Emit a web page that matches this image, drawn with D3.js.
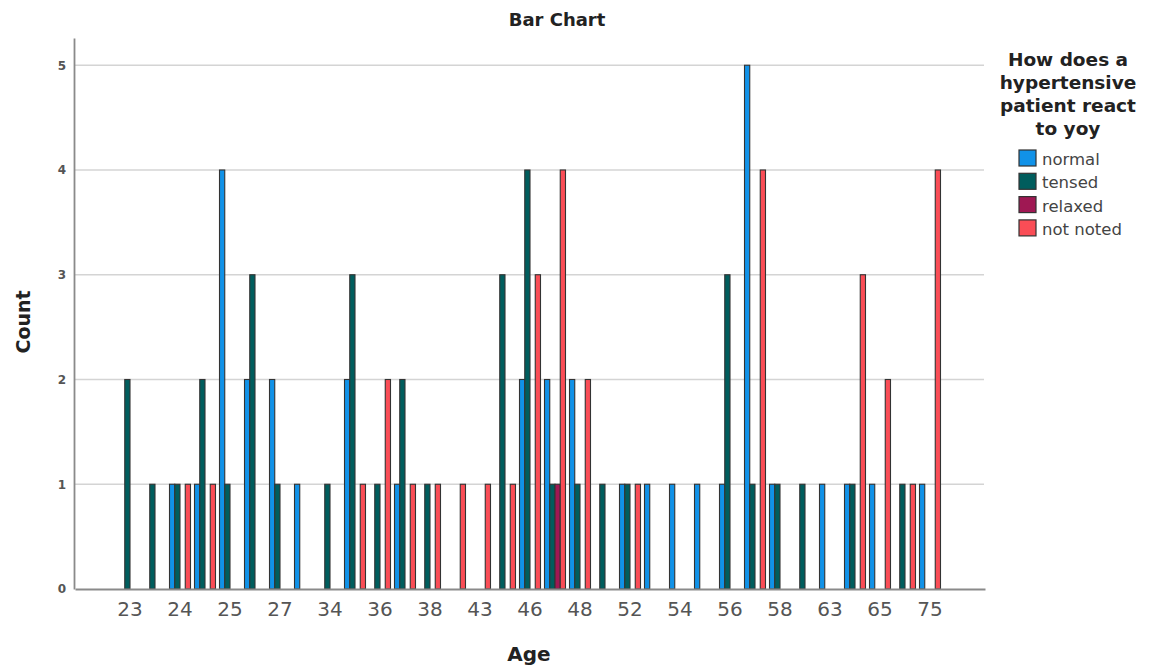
<!DOCTYPE html>
<html>
<head>
<meta charset="utf-8">
<script src="https://cdn.jsdelivr.net/npm/d3@7"></script>
<style>
  html, body { margin: 0; padding: 0; background: #fff; }
  svg { display: block; font-family: "DejaVu Sans", Verdana, sans-serif; }
</style>
</head>
<body>
<svg id="chart" width="1155" height="671"></svg>
<script>
// Age categories (every second label is hidden on the axis, as in the source)
const ageLabels = ["23","","24","","25","","27","","34","","36","","38","","43","","46","","48","","52","","54","","56","","58","","63","","65","","75"];
const seriesNames = ["normal", "tensed", "relaxed", "not noted"];
const seriesColors = ["#1192e8", "#005d5d", "#9f1853", "#fa4d56"];

const normal   = [0,0,1,1,4,2,2,1,0,2,0,1,0,0,0,0,2,2,2,0,1,1,1,1,1,5,1,0,1,1,1,0,1];
const tensed   = [2,1,1,2,1,3,1,0,1,3,1,2,1,0,0,3,4,1,1,1,1,0,0,0,3,1,1,1,0,1,0,1,0];
const relaxed  = [0,0,0,0,0,0,0,0,0,0,0,0,0,0,0,0,0,1,0,0,0,0,0,0,0,0,0,0,0,0,0,0,0];
const notNoted = [0,0,1,1,0,0,0,0,0,1,2,1,1,1,1,1,3,4,2,0,1,0,0,0,0,4,0,0,0,3,2,1,4];

const yTicks = [0,1,2,3,4,5];
const seriesValues = [normal, tensed, relaxed, notNoted];

const svg = d3.select("#chart");
const plot = { left: 75, right: 985, top: 38, bottom: 589 };

const idx = ageLabels.map((_, i) => i);
const x = d3.scaleBand().domain(idx).range([plot.left, plot.right]).paddingInner(0).paddingOuter(1.7);
const xs = d3.scaleBand().domain(d3.range(seriesNames.length)).range([-10.5, 10.5]);
const y = d3.scaleLinear().domain([0, 5.26]).range([plot.bottom, plot.top]);

// gridlines
svg.append("g").selectAll("line").data(yTicks.filter(t => t > 0)).join("line")
  .attr("x1", plot.left).attr("x2", plot.right - 1)
  .attr("y1", d => y(d)).attr("y2", d => y(d))
  .attr("stroke", "#d4d4d4").attr("stroke-width", 1.6);

// bars
const barData = [];
seriesValues.forEach((vals, s) => vals.forEach((v, i) => { if (v > 0) barData.push({ i, s, v }); }));
svg.append("g").selectAll("rect").data(barData).join("rect")
  .attr("x", d => x(d.i) + x.bandwidth() / 2 + xs(d.s))
  .attr("width", xs.bandwidth())
  .attr("y", d => y(d.v))
  .attr("height", d => y(0) - y(d.v))
  .attr("fill", d => seriesColors[d.s])
  .attr("stroke", "#333").attr("stroke-width", 1.1);

// y axis
const yAxis = svg.append("g").attr("transform", `translate(${plot.left - 1},0)`)
  .call(d3.axisLeft(y).tickValues(yTicks).tickSize(0).tickPadding(8).tickFormat(d3.format("d")));
yAxis.select(".domain").attr("stroke", "#8a8a8a").attr("stroke-width", 1.8);
yAxis.selectAll("text").attr("font-size", 12).attr("font-weight", "bold").attr("fill", "#555")
  .attr("font-family", "DejaVu Sans, sans-serif");

// x axis
const xAxis = svg.append("g").attr("transform", `translate(0,${plot.bottom})`)
  .call(d3.axisBottom(x).tickSize(0).tickPadding(13).tickFormat(i => ageLabels[i]));
xAxis.select(".domain").attr("stroke", "#8a8a8a").attr("stroke-width", 1.8);
xAxis.selectAll("text").attr("font-size", 20).attr("fill", "#555")
  .attr("font-family", "DejaVu Sans, sans-serif");

// titles
svg.append("text").attr("x", 557).attr("y", 26).attr("text-anchor", "middle")
  .attr("font-size", 18).attr("font-weight", "bold").attr("fill", "#222").text("Bar Chart");
svg.append("text").attr("x", 529).attr("y", 661).attr("text-anchor", "middle")
  .attr("font-size", 20).attr("font-weight", "bold").attr("fill", "#222").text("Age");
svg.append("text").attr("transform", "translate(30,322) rotate(-90)").attr("text-anchor", "middle")
  .attr("font-size", 19).attr("font-weight", "bold").attr("fill", "#222").text("Count");

// legend
const legendTitle = ["How does a", "hypertensive", "patient react", "to yoy"];
svg.append("g").selectAll("text").data(legendTitle).join("text")
  .attr("x", 1068).attr("y", (d, i) => 66 + i * 23)
  .attr("text-anchor", "middle").attr("font-size", 18.5).attr("font-weight", "bold").attr("fill", "#222")
  .text(d => d);

const leg = svg.append("g").selectAll("g").data(seriesNames).join("g")
  .attr("transform", (d, i) => `translate(1019,${150 + i * 23.3})`);
leg.append("rect").attr("width", 17).attr("height", 16)
  .attr("fill", (d, i) => seriesColors[i]).attr("stroke", "#333").attr("stroke-width", 1.2);
leg.append("text").attr("x", 23).attr("y", 15).attr("font-size", 16.5).attr("fill", "#444").text(d => d);
</script>
</body>
</html>
